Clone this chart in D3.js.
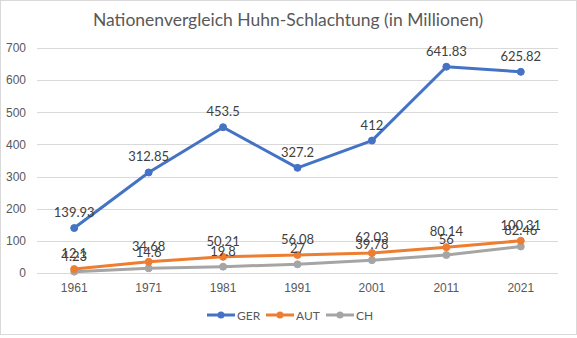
<!DOCTYPE html>
<html><head><meta charset="utf-8">
<script src="https://cdn.jsdelivr.net/npm/d3@7"></script>
<style>body{margin:0;background:#fff;} svg{display:block;font-family:Lato,"Liberation Sans",sans-serif;}</style>
</head><body><svg id="c" width="577" height="338"></svg>
<script>
const years = ["1961","1971","1981","1991","2001","2011","2021"];
const GER = [139.93, 312.85, 453.5, 327.2, 412, 641.83, 625.82];
const AUT = [12.1, 34.68, 50.21, 56.08, 62.03, 80.14, 100.31];
const CH = [4.23, 14.6, 19.8, 27, 39.78, 56, 82.46];
const yTicks = [0, 100, 200, 300, 400, 500, 600, 700];
const seriesNames = ["GER", "AUT", "CH"];
const colors = ["#4472C4", "#ED7D31", "#A5A5A5"];
const title = "Nationenvergleich Huhn-Schlachtung (in Millionen)";

const svg = d3.select("#c");
svg.append("rect").attr("x",0.5).attr("y",0.5).attr("width",576).attr("height",334)
  .attr("fill","#fff").attr("stroke","#D9D9D9");

const x = d3.scaleBand().domain(years).range([37, 558]);
const y = d3.scaleLinear().domain([0, 700]).range([273, 48]);
const txt = "#595959";

svg.append("text").attr("x", 288).attr("y", 26).attr("text-anchor","middle")
  .attr("font-size", 17.5).attr("fill", txt).text(title);

// grid
svg.append("g").selectAll("line").data(yTicks).join("line")
  .attr("x1", 37).attr("x2", 558).attr("y1", d => Math.round(y(d))+0.5).attr("y2", d => Math.round(y(d))+0.5)
  .attr("stroke", "#D9D9D9").attr("stroke-width", 1);

const yAxis = svg.append("g").attr("transform","translate(26,0)")
  .call(d3.axisLeft(y).tickValues(yTicks).tickSize(0).tickPadding(0));
yAxis.select(".domain").remove();
yAxis.selectAll("text").attr("font-size", 12).attr("fill", txt).attr("font-family","inherit");

const xAxis = svg.append("g").attr("transform","translate(0,278)")
  .call(d3.axisBottom(x).tickSize(0).tickPadding(5));
xAxis.select(".domain").remove();
xAxis.selectAll("text").attr("font-size", 12).attr("fill", txt).attr("font-family","inherit");

const data = [GER, AUT, CH];
const cx = d => x(d) + x.bandwidth()/2;
const line = d3.line().x((v,i) => cx(years[i])).y(v => y(v));

[2,1,0].forEach(s => {
  const g = svg.append("g");
  g.append("path").datum(data[s]).attr("d", line).attr("fill","none")
    .attr("stroke", colors[s]).attr("stroke-width", 3).attr("stroke-linejoin","round").attr("stroke-linecap","round");
  g.selectAll("circle").data(data[s]).join("circle")
    .attr("cx", (v,i) => cx(years[i])).attr("cy", v => y(v)).attr("r", 3.5)
    .attr("fill", colors[s]).attr("stroke", colors[s]);
});
[2,1,0].forEach(s => {
  svg.append("g").selectAll("text").data(data[s]).join("text")
    .attr("x", (v,i) => cx(years[i])).attr("y", v => y(v) - 11)
    .attr("text-anchor","middle").attr("font-size", 13).attr("fill", "#404040")
    .text(v => String(v));
});

// legend
const lx = [207, 266, 326];
seriesNames.forEach((n, i) => {
  const g = svg.append("g");
  g.append("line").attr("x1", lx[i]).attr("x2", lx[i]+28).attr("y1", 315).attr("y2", 315)
    .attr("stroke", colors[i]).attr("stroke-width", 3);
  g.append("circle").attr("cx", lx[i]+14).attr("cy", 315).attr("r", 3.5).attr("fill", colors[i]);
  g.append("text").attr("x", lx[i]+30).attr("y", 319.5).attr("font-size", 12).attr("fill", txt).text(n);
});
</script></body></html>
